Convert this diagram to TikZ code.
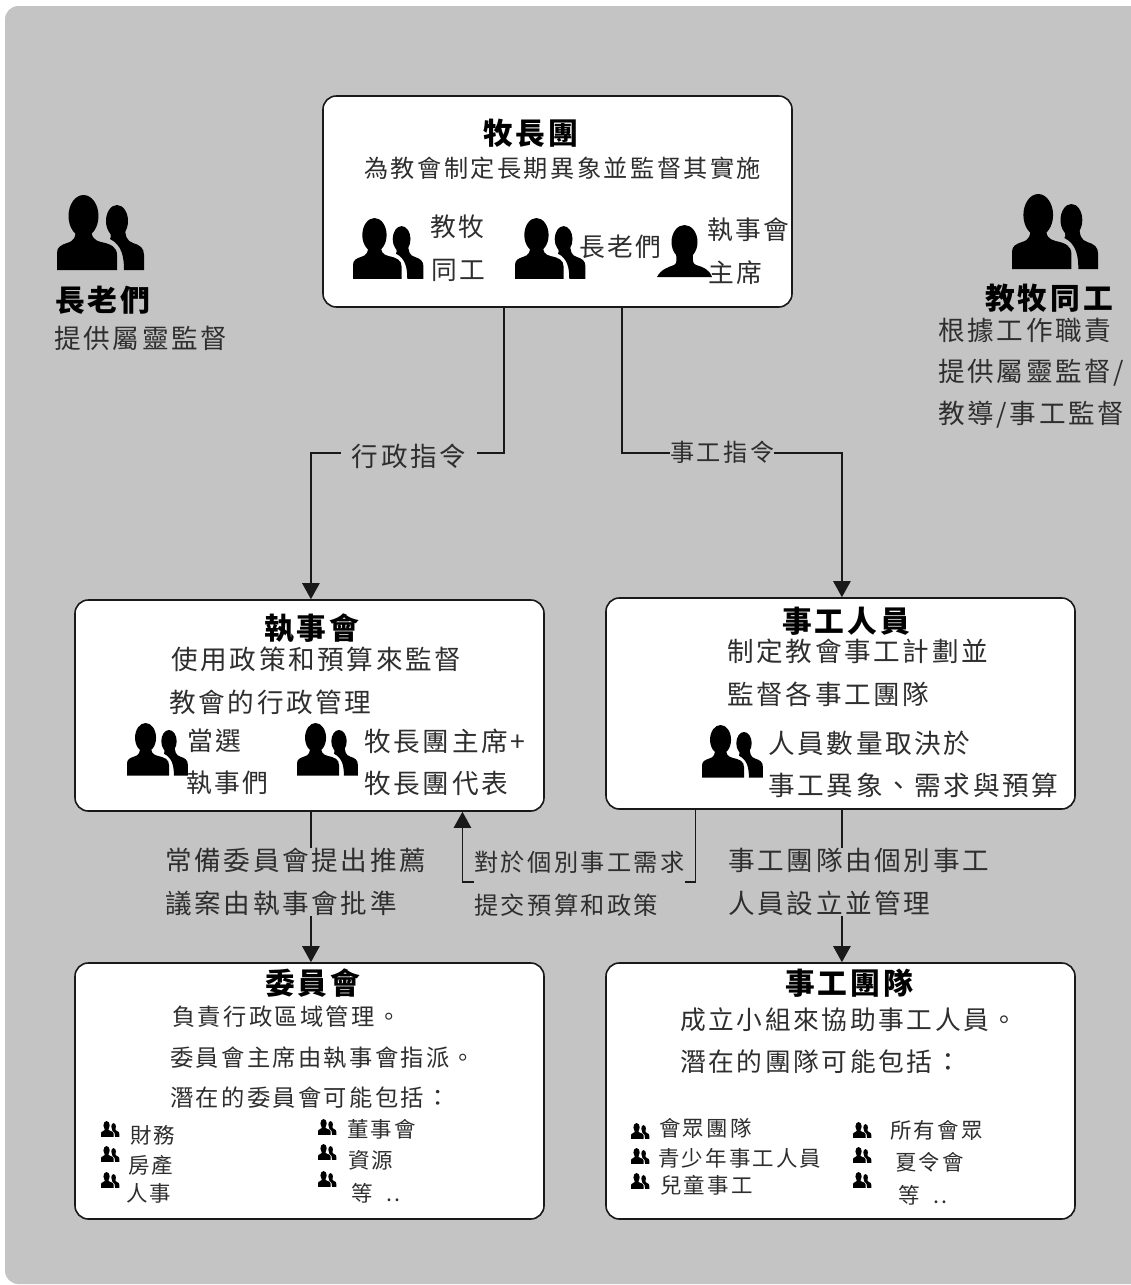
\documentclass[tikz,border=0pt]{standalone}
\usepackage{fontspec}
\setmainfont[LetterSpace=10]{Noto Sans CJK TC}
\usetikzlibrary{arrows.meta,calc}
\definecolor{bgc}{HTML}{C4C4C4}
\definecolor{ink}{HTML}{2E2E2E}
\def\px{0.75pt}
\newcommand{\fsz}[1]{\fontsize{#1}{32.25}\selectfont}
\tikzset{
  x=0.75pt,y=-0.75pt,
  box/.style={draw=black!90,fill=white,line width=1.2pt,rounded corners=10pt,inner sep=0pt},
  line/.style={draw=black!90,line width=1.1pt},
  arr/.style={line,-{Triangle[length=12pt,width=13pt]}},
  txt/.style={inner sep=0pt,anchor=west,text=ink,align=left},
  bodyA/.style={txt,font=\fsz{18.15}},
  bodyB/.style={txt,font=\fsz{19.95}},
  bodyC/.style={txt,font=\fsz{17.45}},
  bodyD/.style={txt,font=\fsz{19.3}},
  small/.style={txt,font=\fsz{16.1}},
  ttl/.style={inner sep=0pt,anchor=west,text=black,font=\bfseries\fsz{22.3}},
  cover/.style={fill=bgc},
  men/.style={fill=black,draw=none},
  twomen/.pic={
    \fill[men] (0,75) -- (0,58) .. controls (0,52) and (4,50) .. (10,48) .. controls (17,46) and (19,43) .. (19,30) -- (34,30) .. controls (34,43) and (37,45) .. (44,47) .. controls (54,49) and (60,52) .. (60,60) -- (60,75) -- cycle;
    \fill[men] (26.5,21) ellipse [x radius=15,y radius=21];
    \fill[men] (53,44) .. controls (55,41) and (53,38) .. (52,30) -- (68,30) .. controls (68,42) and (70,46) .. (76,48) .. controls (83,50) and (87,53) .. (87,60) -- (87,75) -- (67,75) .. controls (67,62) and (65,50) .. (53,44) -- cycle;
    \fill[men] (60,26) ellipse [x radius=11,y radius=16];
  },
  oneman/.pic={
    \fill[men] (0,52) .. controls (4,44) and (12,42) .. (17,40) .. controls (21,38) and (19,34) .. (19,26) -- (36,26) .. controls (36,36) and (35,38) .. (39,40) .. controls (46,42) and (52,44) .. (55,52) -- cycle;
    \fill[men] (27.5,17) ellipse [x radius=13,y radius=17];
  },
}
\begin{document}
\begin{tikzpicture}
\useasboundingbox (0,0) rectangle (1131,1285);
\fill[bgc,rounded corners=10pt] (5,6) rectangle (1150,1284);

% boxes
\node[box,minimum width=469*\px,minimum height=211*\px] (top) at (557.5,201.5) {};
\node[box,minimum width=469*\px,minimum height=211*\px] (exec) at (309.5,705.5) {};
\node[box,minimum width=469*\px,minimum height=211*\px] (staff) at (840.5,703.5) {};
\node[box,minimum width=469*\px,minimum height=256*\px] (comm) at (309.5,1091) {};
\node[box,minimum width=469*\px,minimum height=256*\px] (team) at (840.5,1091) {};

% connector ends
\coordinate (topA) at ($(top.south west)!0.386!(top.south east)$);
\coordinate (topB) at ($(top.south west)!0.6375!(top.south east)$);
\coordinate (execIn) at ($(exec.north west)!0.503!(exec.north east)$);
\coordinate (staffIn) at ($(staff.north west)!0.503!(staff.north east)$);
\coordinate (execOut) at ($(exec.south west)!0.503!(exec.south east)$);
\coordinate (execBack) at ($(exec.south west)!0.825!(exec.south east)$);
\coordinate (staffOut) at ($(staff.south west)!0.503!(staff.south east)$);
\coordinate (staffBack) at ($(staff.south west)!0.192!(staff.south east)$);
\coordinate (commIn) at ($(comm.north west)!0.503!(comm.north east)$);
\coordinate (teamIn) at ($(team.north west)!0.503!(team.north east)$);

% connectors
\draw[arr] (topA) -- ++(0,145) -| (execIn);
\draw[arr] (topB) -- ++(0,145) -| (staffIn);
\draw[arr] (execOut) -- (commIn);
\draw[arr] (staffOut) -- (teamIn);
\draw[arr] (staffBack) -- ++(0,72) -| (execBack);

% connector labels
\node[bodyB,cover,inner xsep=8pt] (lAdmin) at (341,456) {行政指令};
\node[bodyA,cover] (lMin) at (670,452) {事工指令};
\node[bodyB,cover] (lStand) at (165,882) {常備委員會提出推薦\\議案由執事會批準};
\node[bodyA,cover] (lBudget) at (474,884) {對於個別事工需求\\提交預算和政策};
\node[bodyB,cover] (lTeam) at (728,882) {事工團隊由個別事工\\人員設立並管理};

% top box
\node[ttl] (tTop) at (483,133) {牧長團};
\node[bodyA] (tTop1) at (364,168) {為教會制定長期異象並監督其實施};
\pic[xscale=0.81,yscale=0.81] at (353,218) {twomen};
\node[bodyD] (tTop2) at (430,227) {教牧};
\node[bodyD] (tTop3) at (431,270) {同工};
\pic[xscale=0.81,yscale=0.81] at (515,218) {twomen};
\node[bodyD] (tTop4) at (579,247) {長老們};
\pic at (657,225) {oneman};
\node[bodyD] (tTop5) at (707,230) {執事會};
\node[bodyD] (tTop6) at (708,273) {主席};

% elders
\pic at (57,195) {twomen};
\node[ttl] (tEld) at (55,300) {長老們};
\node[bodyB] (tEld1) at (54,338) {提供屬靈監督};

% pastoral staff
\pic[xscale=0.99] at (1012,194) {twomen};
\node[ttl] (tPas) at (985,298) {教牧同工};
\node[bodyB] (tPas1) at (938,330) {根據工作職責};
\node[bodyB] (tPas2) at (938,373) {提供屬靈監督/};
\node[bodyB] (tPas3) at (938,415) {教導/事工監督};

% exec box
\node[ttl] (tEx) at (264,628) {執事會};
\node[bodyB] (tEx1) at (171,659) {使用政策和預算來監督};
\node[bodyB] (tEx2) at (169,702) {教會的行政管理};
\pic[scale=0.70] at (127,723) {twomen};
\node[bodyD] (tEx3) at (187,741) {當選};
\node[bodyD] (tEx4) at (186,783) {執事們};
\pic[scale=0.70] at (297,723) {twomen};
\node[bodyB] (tEx5) at (364,741) {牧長團主席+};
\node[bodyB] (tEx6) at (364,783) {牧長團代表};

% staff box
\node[ttl] (tSt) at (782,621) {事工人員};
\node[bodyB] (tSt1) at (727,651) {制定教會事工計劃並};
\node[bodyB] (tSt2) at (727,694) {監督各事工團隊};
\pic[scale=0.70] at (702,725) {twomen};
\node[bodyB] (tSt3) at (768,743) {人員數量取決於};
\node[bodyB] (tSt4) at (768,785) {事工異象、需求與預算};

% committee box
\node[ttl] (tCo) at (265,983) {委員會};
\node[bodyC] (tCo1) at (172,1017) {負責行政區域管理。};
\node[bodyC] (tCo2) at (170,1058) {委員會主席由執事會指派。};
\node[bodyC] (tCo3) at (170,1098) {潛在的委員會可能包括：};
\pic[scale=0.21] at (101,1121) {twomen};
\pic[scale=0.21] at (101,1146) {twomen};
\pic[scale=0.21] at (101,1172) {twomen};
\pic[scale=0.21] at (318,1119) {twomen};
\pic[scale=0.21] at (318,1144) {twomen};
\pic[scale=0.21] at (318,1171) {twomen};
\node[small] (tCo4) at (130,1135) {財務};
\node[small] (tCo5) at (128,1165) {房產};
\node[small] (tCo6) at (126,1193) {人事};
\node[small] (tCo7) at (347,1129) {董事會};
\node[small] (tCo8) at (348,1160) {資源};
\node[small] (tCo9) at (351,1193) {等\ \ ..};

% team box
\node[ttl] (tTe) at (785,983) {事工團隊};
\node[bodyD] (tTe1) at (680,1020) {成立小組來協助事工人員。};
\node[bodyD] (tTe2) at (680,1062) {潛在的團隊可能包括：};
\pic[scale=0.21] at (631,1123) {twomen};
\pic[scale=0.21] at (631,1148) {twomen};
\pic[scale=0.21] at (631,1173) {twomen};
\pic[scale=0.21] at (853,1122) {twomen};
\pic[scale=0.21] at (853,1147) {twomen};
\pic[scale=0.21] at (853,1172) {twomen};
\node[small] (tTe3) at (659,1128) {會眾團隊};
\node[small] (tTe4) at (658,1158) {青少年事工人員};
\node[small] (tTe5) at (660,1185) {兒童事工};
\node[small] (tTe6) at (890,1130) {所有會眾};
\node[small] (tTe7) at (895,1162) {夏令會};
\node[small] (tTe8) at (898,1195) {等\ \ ..};
\end{tikzpicture}
\end{document}
